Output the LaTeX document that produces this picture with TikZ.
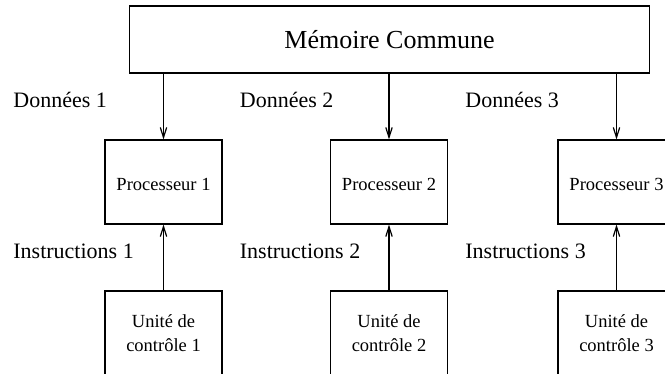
\documentclass[tikz,border=0pt]{standalone}
\usepackage{fontspec}
\setmainfont{Liberation Serif}
\usetikzlibrary{arrows.meta}

\begin{document}
\begin{tikzpicture}[x=0.5pt,y=-0.5pt,
    box/.style={draw, line width=0.6pt, inner sep=0pt},
    procbox/.style={box, minimum width=58.5pt, minimum height=42pt,
      font=\fontsize{9.25}{12}\selectfont, text height=9pt},
    unitbox/.style={box, minimum width=58.5pt, minimum height=42pt,
      font=\fontsize{9.25}{12}\selectfont, align=center},
    lbl/.style={anchor=base west, inner sep=0pt, font=\fontsize{11}{13}\selectfont},
    flow/.style={line width=0.6pt, -{Straight Barb[length=5pt,width=3.2pt]}}]
    \useasboundingbox (0,0) rectangle (665,374);
    \clip (0,0) rectangle (665,374);
    \node[box, minimum width=260pt, minimum height=33.5pt,
      font=\fontsize{13}{15}\selectfont] (mem) at (389.5,39.5) {Mémoire Commune};
    \node[procbox] (p1) at (163.5,182) {Processeur 1};
    \node[procbox] (p2) at (389,182) {Processeur 2};
    \node[procbox] (p3) at (616.5,182) {Processeur 3};
    \node[unitbox] (u1) at (163.5,333) {Unité de\\contrôle 1};
    \node[unitbox] (u2) at (389,333) {Unité de\\contrôle 2};
    \node[unitbox] (u3) at (616.5,333) {Unité de\\contrôle 3};
    \draw[flow] (p1.north |- mem.south) -- (p1.north);
    \draw[flow] (p2.north |- mem.south) -- (p2.north);
    \draw[flow] (p3.north |- mem.south) -- (p3.north);
    \draw[flow] (u1.north) -- (p1.south);
    \draw[flow] (u2.north) -- (p2.south);
    \draw[flow] (u3.north) -- (p3.south);
    \node[lbl] (d1) at (13,107.5) {Données 1};
    \node[lbl] (d2) at (239.5,107.5) {Données 2};
    \node[lbl] (d3) at (465,107.5) {Données 3};
    \node[lbl] (i1) at (13,258.3) {Instructions 1};
    \node[lbl] (i2) at (239.5,258.3) {Instructions 2};
    \node[lbl] (i3) at (465,258.3) {Instructions 3};
  \end{tikzpicture}
\end{document}
